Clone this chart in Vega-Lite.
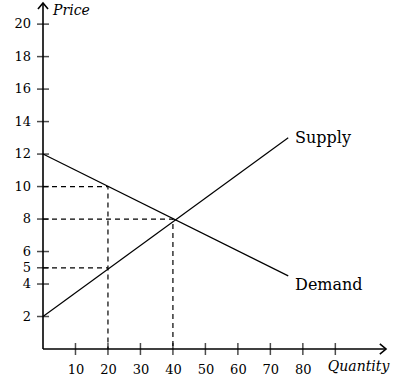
{
  "$schema": "https://vega.github.io/schema/vega-lite/v6.json",
  "width": 343,
  "height": 346,
  "autosize": {"type": "none"},
  "padding": {"left": 43, "top": 3, "right": 31, "bottom": 33},
  "background": "white",
  "config": {
    "view": {"stroke": null},
    "font": "DejaVu Serif"
  },
  "datasets": {
    "curves": [
      {"series": "Supply", "q": 0, "p": 2},
      {"series": "Supply", "q": 75.5, "p": 13.0},
      {"series": "Demand", "q": 0, "p": 12},
      {"series": "Demand", "q": 75.5, "p": 4.5}
    ],
    "dashed": [
      {"seg": "a", "q": 0, "p": 10},
      {"seg": "a", "q": 20, "p": 10},
      {"seg": "a", "q": 20, "p": 0},
      {"seg": "b", "q": 0, "p": 5},
      {"seg": "b", "q": 20, "p": 5},
      {"seg": "c", "q": 0, "p": 8},
      {"seg": "c", "q": 40, "p": 8},
      {"seg": "c", "q": 40, "p": 0}
    ],
    "axes": [
      {"seg": "x", "o": 0, "q": 0, "p": 0},
      {"seg": "x", "o": 1, "q": 105.6, "p": 0},
      {"seg": "y", "o": 0, "q": 0, "p": 0},
      {"seg": "y", "o": 1, "q": 0, "p": 21.3},
      {"seg": "xa", "o": 0, "q": 103.7, "p": 0.31},
      {"seg": "xa", "o": 1, "q": 105.6, "p": 0},
      {"seg": "xa", "o": 2, "q": 103.7, "p": -0.31},
      {"seg": "ya", "o": 0, "q": -1.55, "p": 20.93},
      {"seg": "ya", "o": 1, "q": 0, "p": 21.3},
      {"seg": "ya", "o": 2, "q": 1.55, "p": 20.93}
    ],
    "xticks": [
      {"q": 10}, {"q": 20}, {"q": 30}, {"q": 40}, {"q": 50},
      {"q": 60}, {"q": 70}, {"q": 80}, {"q": 90}
    ],
    "yticks": [
      {"p": 2}, {"p": 4}, {"p": 5}, {"p": 6}, {"p": 8}, {"p": 10},
      {"p": 12}, {"p": 14}, {"p": 16}, {"p": 18}, {"p": 20}
    ],
    "curveLabels": [
      {"label": "Supply", "q": 77.6, "p": 12.96},
      {"label": "Demand", "q": 77.6, "p": 3.92}
    ],
    "axisTitles": [
      {"label": "Quantity", "q": 87.7, "p": -1.08},
      {"label": "Price", "q": 3.1, "p": 20.8}
    ]
  },
  "layer": [
    {
      "data": {"name": "dashed"},
      "mark": {"type": "line", "color": "black", "strokeWidth": 1.2, "strokeDash": [5, 4]},
      "encoding": {
        "x": {
          "field": "q", "type": "quantitative",
          "scale": {"domain": [0, 105.6], "nice": false, "zero": false},
          "axis": {
            "title": null, "values": [10, 20, 30, 40, 50, 60, 70, 80],
            "domain": false, "ticks": false, "grid": false,
            "labelFont": "DejaVu Serif", "labelFontSize": 13, "labelColor": "black",
            "labelPadding": 14, "labelOverlap": false
          }
        },
        "y": {
          "field": "p", "type": "quantitative",
          "scale": {"domain": [0, 21.3], "nice": false, "zero": false},
          "axis": null
        },
        "detail": {"field": "seg"}
      }
    },
    {
      "data": {"name": "curves"},
      "mark": {"type": "line", "color": "black", "strokeWidth": 1.2},
      "encoding": {
        "x": {"field": "q", "type": "quantitative"},
        "y": {"field": "p", "type": "quantitative", "axis": null},
        "detail": {"field": "series"}
      }
    },
    {
      "data": {"name": "axes"},
      "mark": {"type": "line", "color": "black", "strokeWidth": 1.6, "clip": false},
      "encoding": {
        "x": {"field": "q", "type": "quantitative"},
        "y": {"field": "p", "type": "quantitative", "axis": null},
        "detail": {"field": "seg"},
        "order": {"field": "o"}
      }
    },
    {
      "data": {"name": "xticks"},
      "mark": {"type": "tick", "orient": "vertical", "color": "black", "size": 12, "thickness": 1.5},
      "encoding": {
        "x": {"field": "q", "type": "quantitative"},
        "y": {"datum": 0, "type": "quantitative", "axis": null}
      }
    },
    {
      "data": {"name": "yticks"},
      "mark": {"type": "tick", "orient": "horizontal", "color": "black", "size": 12, "thickness": 1.5},
      "encoding": {
        "y": {"field": "p", "type": "quantitative", "axis": null},
        "x": {"datum": 0, "type": "quantitative"}
      }
    },
    {
      "data": {"name": "yticks"},
      "mark": {"type": "text", "align": "right", "baseline": "middle", "dx": -12, "font": "DejaVu Serif", "fontSize": 13, "color": "black", "clip": false},
      "encoding": {
        "y": {"field": "p", "type": "quantitative", "axis": null},
        "x": {"datum": 0, "type": "quantitative"},
        "text": {"field": "p", "type": "quantitative"}
      }
    },
    {
      "data": {"name": "curveLabels"},
      "mark": {"type": "text", "align": "left", "baseline": "middle", "font": "DejaVu Serif", "fontSize": 16, "color": "black"},
      "encoding": {
        "x": {"field": "q", "type": "quantitative"},
        "y": {"field": "p", "type": "quantitative", "axis": null},
        "text": {"field": "label"}
      }
    },
    {
      "data": {"name": "axisTitles"},
      "mark": {"type": "text", "align": "left", "baseline": "middle", "font": "DejaVu Serif", "fontSize": 14, "fontStyle": "italic", "color": "black", "clip": false},
      "encoding": {
        "x": {"field": "q", "type": "quantitative"},
        "y": {"field": "p", "type": "quantitative", "axis": null},
        "text": {"field": "label"}
      }
    }
  ]
}
